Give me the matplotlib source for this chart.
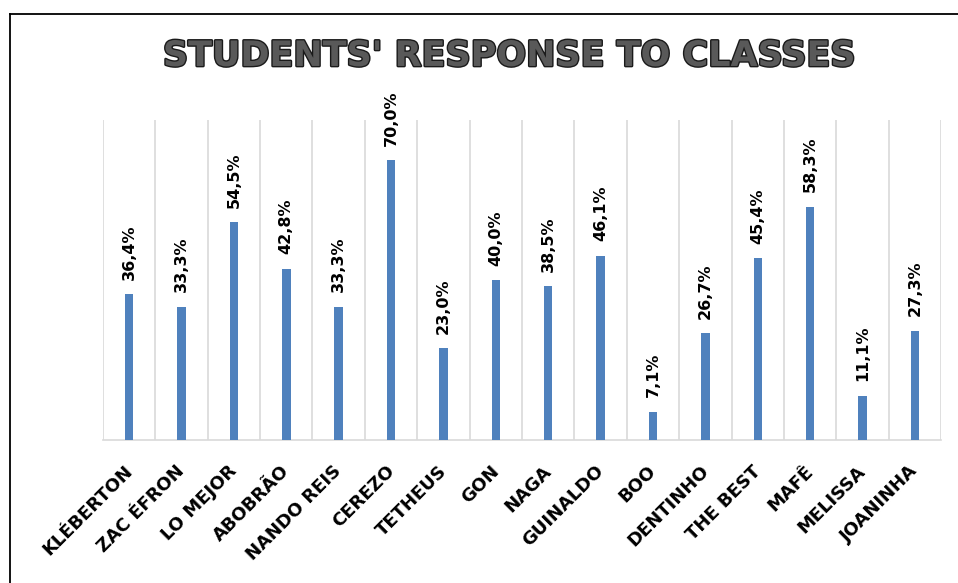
import matplotlib.pyplot as plt
import matplotlib.patheffects as pe
import matplotlib.transforms as mtransforms
import numpy as np

names = ["KLÉBERTON", "ZAC ÉFRON", "LO MEJOR", "ABOBRÃO", "NANDO REIS", "CEREZO",
         "TETHEUS", "GON", "NAGA", "GUINALDO", "BOO", "DENTINHO", "THE BEST",
         "MAFÊ", "MELISSA", "JOANINHA"]
pct = [36.4, 33.3, 54.5, 42.8, 33.3, 70.0, 23.0, 40.0, 38.5, 46.1, 7.1, 26.7,
       45.4, 58.3, 11.1, 27.3]

fig = plt.figure(figsize=(9.58, 5.83), dpi=100)
ax = fig.add_axes([0.1075, 0.2453, 0.8748, 0.5489])

x = np.arange(len(names))
ax.bar(x, pct, width=0.16, color='#4F81BD', zorder=3)

ax.set_xlim(-0.5, len(names) - 0.5)
ax.set_ylim(0, 80)

# vertical separators between categories
for b in np.arange(-0.5, len(names), 1.0):
    ax.axvline(b, color='#D9D9D9', lw=1.2, zorder=1)

for s in ['top', 'left', 'right']:
    ax.spines[s].set_visible(False)
ax.spines['bottom'].set_color('#D9D9D9')
ax.spines['bottom'].set_linewidth(1.2)
ax.set_yticks([])
ax.set_xticks(x)
ax.set_xticklabels(names, rotation=45, ha='right', va='top', rotation_mode='anchor',
                   fontsize=13, fontweight='bold', family='DejaVu Sans')
ax.tick_params(axis='x', length=0, pad=16)
shift = mtransforms.ScaledTranslation(-6/100, 0, fig.dpi_scale_trans)
for lab in ax.get_xticklabels():
    lab.set_transform(lab.get_transform() + shift)

for xi, v in zip(x, pct):
    ax.text(xi, v + 3.6, f"{v:.1f}%".replace('.', ','), rotation=90, ha='center', va='bottom',
            fontsize=11.5, fontweight='bold', family='DejaVu Sans')

fig.text(0.532, 0.904, "STUDENTS' RESPONSE TO CLASSES", ha='center', va='center',
         fontsize=25.2, fontweight='bold', family='DejaVu Sans', color='#595959',
         path_effects=[pe.withStroke(linewidth=2.0, foreground='#1a1a1a')])

# frame lines on the left and top of the figure
fig.add_artist(plt.Line2D([10/958, 10/958], [0, 1 - 14/583], color='black', lw=1.3,
                          transform=fig.transFigure))
fig.add_artist(plt.Line2D([10/958, 1], [1 - 14/583, 1 - 14/583], color='black', lw=1.3,
                          transform=fig.transFigure))

fig.savefig('out.png', dpi=100)
